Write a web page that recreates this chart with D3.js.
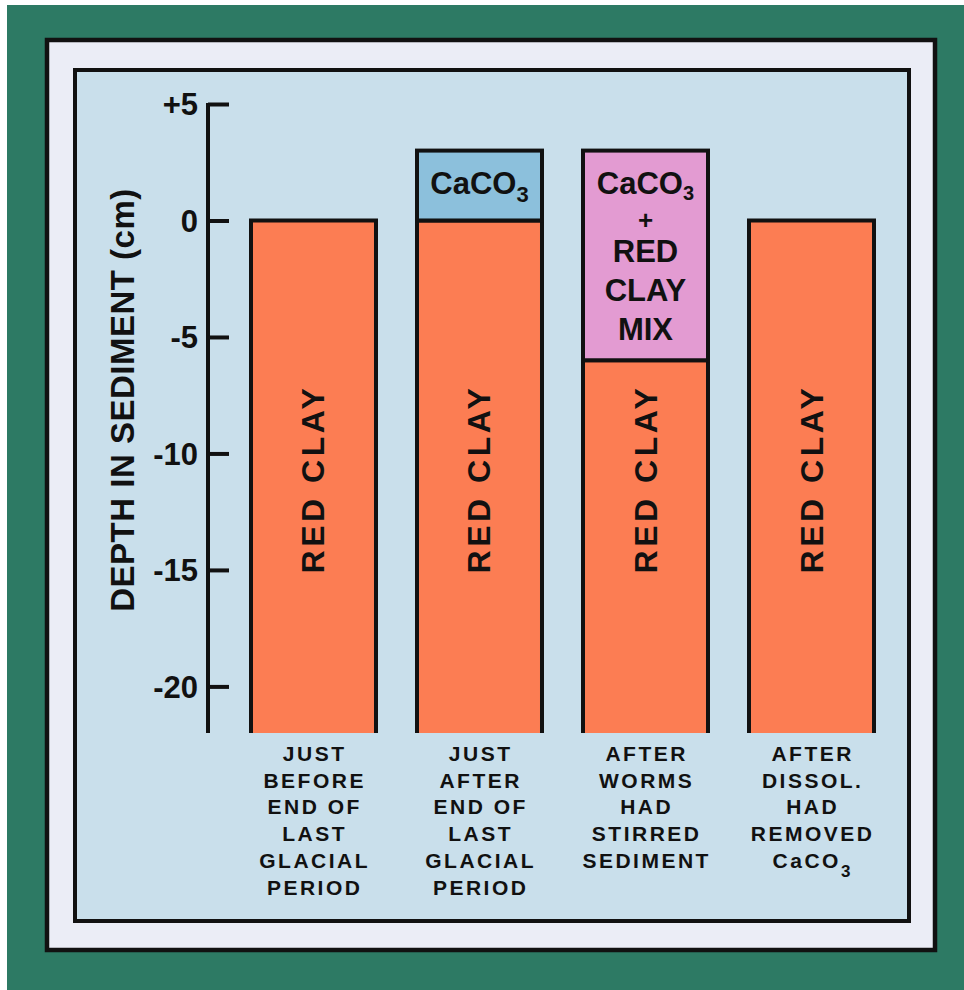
<!DOCTYPE html>
<html>
<head>
<meta charset="utf-8">
<script src="https://cdn.jsdelivr.net/npm/d3@7"></script>
<style>
  html, body { margin: 0; padding: 0; background: #ffffff; }
  svg { display: block; }
  text { font-family: "Liberation Sans", Arial, Helvetica, sans-serif; font-weight: bold; fill: #111; }
</style>
</head>
<body>
<svg id="chart" width="964" height="990"></svg>
<script>
// ---- data ----
const categories = [
  ["JUST", "BEFORE", "END OF", "LAST", "GLACIAL", "PERIOD"],
  ["JUST", "AFTER", "END OF", "LAST", "GLACIAL", "PERIOD"],
  ["AFTER", "WORMS", "HAD", "STIRRED", "SEDIMENT"],
  ["AFTER", "DISSOL.", "HAD", "REMOVED", "CaCO|3"]
];
const redClayTop = [0, 0, -6, 0];          // top of red clay layer (cm)
const upperTop   = [null, 3, 3, null];      // top of upper layer (cm)
const upperKind  = [null, "caco3", "mix", null];
const mixLines = ["+", "RED", "CLAY", "MIX"];
const yDomain = [-22, 5];
const yTicks = [5, 0, -5, -10, -15, -20];
const yTickLabels = ["+5", "0", "-5", "-10", "-15", "-20"];
const yTitle = "DEPTH IN SEDIMENT (cm)";
const clayLabel = "RED CLAY";

// ---- colours ----
const C = {
  green: "#2d7a64", frame: "#ebedf6", panel: "#c9dfeb",
  clay: "#fc7d53", caco3: "#8cc0dc", mix: "#e39bd2", ink: "#111111"
};

const svg = d3.select("#chart");

// background & frames
svg.append("rect").attr("x", 7).attr("y", 5).attr("width", 957).attr("height", 985).attr("fill", C.green);
svg.append("rect").attr("x", 47).attr("y", 40).attr("width", 888).attr("height", 910)
  .attr("fill", C.frame).attr("stroke", C.ink).attr("stroke-width", 4.5);
svg.append("rect").attr("x", 75).attr("y", 70).attr("width", 834).attr("height", 851)
  .attr("fill", C.panel).attr("stroke", C.ink).attr("stroke-width", 4);

// scales
const y = d3.scaleLinear().domain(yDomain).range([733, 104]);
const x = d3.scaleBand().domain(d3.range(categories.length))
  .range([251, 874]).paddingInner(0.247).paddingOuter(0);

// axis
const axisX = 208;
const axis = d3.axisRight(y).tickValues(yTicks).tickSize(21).tickSizeOuter(0)
  .tickFormat(() => "");
const gAxis = svg.append("g").attr("transform", `translate(${axisX},0)`).call(axis);
gAxis.select(".domain").attr("stroke", C.ink).attr("stroke-width", 4)
  .attr("d", `M0,${y(yDomain[1]) - 1}V${y(yDomain[0])}`);
gAxis.selectAll(".tick line").attr("stroke", C.ink).attr("stroke-width", 4);
gAxis.selectAll(".tick text").remove();

svg.append("g").selectAll("text").data(yTicks).join("text")
  .attr("x", 198).attr("y", d => y(d)).attr("dy", "0.36em")
  .attr("text-anchor", "end").attr("font-size", 31)
  .text((d, i) => yTickLabels[i]);

// y title
svg.append("text")
  .attr("transform", `translate(${134},${400}) rotate(-90)`)
  .attr("text-anchor", "middle").attr("font-size", 33).attr("letter-spacing", 0.5)
  .text(yTitle);

// bars
const bottom = yDomain[0];
const gBars = svg.append("g");
categories.forEach((cat, i) => {
  const x0 = x(i), w = x.bandwidth();
  // red clay
  gBars.append("rect").attr("x", x0).attr("y", y(redClayTop[i]))
    .attr("width", w).attr("height", y(bottom) - y(redClayTop[i])).attr("fill", C.clay);
  gBars.append("path")
    .attr("d", `M${x0},${y(bottom)}V${y(redClayTop[i])}H${x0 + w}V${y(bottom)}`)
    .attr("fill", "none").attr("stroke", C.ink).attr("stroke-width", 4);
  // clay label
  gBars.append("text")
    .attr("transform", `translate(${x0 + w / 2 + 11},${y(-11.1)}) rotate(-90)`)
    .attr("text-anchor", "middle").attr("font-size", 32).attr("letter-spacing", 3.5)
    .text(clayLabel);
  // upper layer
  if (upperTop[i] !== null) {
    const fill = upperKind[i] === "caco3" ? C.caco3 : C.mix;
    gBars.append("rect").attr("x", x0).attr("y", y(upperTop[i]))
      .attr("width", w).attr("height", y(redClayTop[i]) - y(upperTop[i]))
      .attr("fill", fill).attr("stroke", C.ink).attr("stroke-width", 4);
    const top = y(upperTop[i]);
    const cx = x0 + w / 2;
    if (upperKind[i] === "caco3") {
      const t = gBars.append("text").attr("x", cx).attr("y", top + 43)
        .attr("text-anchor", "middle").attr("font-size", 31);
      t.append("tspan").text("CaCO");
      t.append("tspan").attr("font-size", 22).attr("dy", 8).text("3");
    } else {
      const t = gBars.append("text").attr("x", cx).attr("y", top + 43)
        .attr("text-anchor", "middle").attr("font-size", 31);
      t.append("tspan").text("CaCO");
      t.append("tspan").attr("font-size", 20).attr("dy", 6).text("3");
      const offs = [78, 111, 150, 189];
      const sizes = [26, 31, 31, 31];
      mixLines.forEach((l, k) => {
        gBars.append("text").attr("x", cx).attr("y", top + offs[k])
          .attr("text-anchor", "middle").attr("font-size", sizes[k]).text(l);
      });
    }
  }
  // category label
  cat.forEach((line, k) => {
    const t = svg.append("text").attr("x", x0 + w / 2 + 1.2).attr("y", 761 + k * 26.7)
      .attr("text-anchor", "middle").attr("font-size", 21).attr("letter-spacing", 2.5);
    if (line.includes("|")) {
      const [a, b] = line.split("|");
      t.append("tspan").text(a);
      t.append("tspan").attr("font-size", 17).attr("dy", 9).text(b);
    } else {
      t.text(line);
    }
  });
});
</script>
</body>
</html>
